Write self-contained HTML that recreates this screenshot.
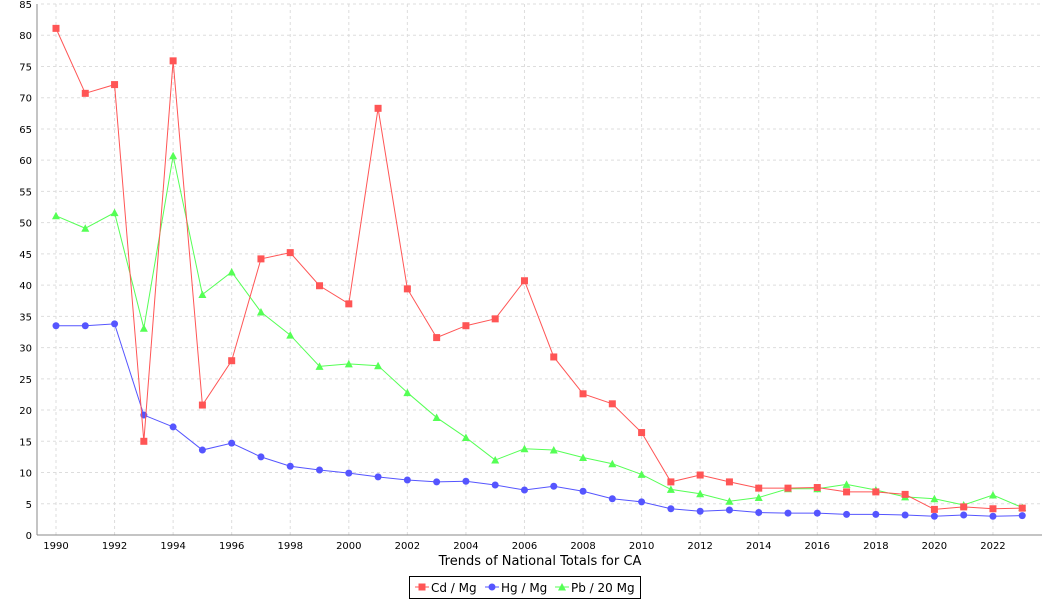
<!DOCTYPE html>
<html><head><meta charset="utf-8"><style>
body{margin:0;background:#fff;font-family:"DejaVu Sans","Liberation Sans",sans-serif}
</style></head><body>
<svg id="s" width="1050" height="600" xmlns="http://www.w3.org/2000/svg" font-family="DejaVu Sans, Liberation Sans, sans-serif"></svg>
<script>
const s=document.getElementById('s');
const X0=41,X1=1042,Y0=535,Y1=4;
const xs=y=>56+(y-1990)*29.28, ys=v=>Y0-v*(Y0-Y1)/85;
let h='';
h+=`<rect x="${X0}" y="${Y1}" width="${X1-X0}" height="${Y0-Y1}" fill="#fff"/>`;
for(let v=5;v<=85;v+=5)h+=`<line x1="${X0}" x2="${X1}" y1="${ys(v)}" y2="${ys(v)}" stroke="#ddd" stroke-dasharray="3,3"/>`;
for(let y=1990;y<=2022;y+=2)h+=`<line x1="${xs(y)}" x2="${xs(y)}" y1="${Y1}" y2="${Y0}" stroke="#ddd" stroke-dasharray="3,3"/>`;
for(let v=0;v<=85;v+=5)h+=`<text x="32" y="${ys(v)+4}" font-size="10" text-anchor="end">${v}</text>`;
for(let y=1990;y<=2022;y+=2)h+=`<text x="${xs(y)}" y="549" font-size="10" text-anchor="middle">${y}</text>`;
h+=`<line x1="37" x2="${X1}" y1="${Y0}" y2="${Y0}" stroke="#888"/><line x1="37" x2="37" y1="${Y1}" y2="${Y0}" stroke="#888"/>`;
h+=`<text x="540" y="565" font-size="13" text-anchor="middle">Trends of National Totals for CA</text>`;
const cd=[81.1,70.7,72.1,15.0,75.9,20.8,27.9,44.2,45.2,39.9,37.0,68.3,39.4,31.6,33.5,34.6,40.7,28.5,22.6,21.0,16.4,8.5,9.6,8.5,7.5,7.5,7.6,6.9,6.9,6.5,4.1,4.5,4.2,4.3];
const hg=[33.5,33.5,33.8,19.2,17.3,13.6,14.7,12.5,11.0,10.4,9.9,9.3,8.8,8.5,8.6,8.0,7.2,7.8,7.0,5.8,5.3,4.2,3.8,4.0,3.6,3.5,3.5,3.3,3.3,3.2,3.0,3.2,3.0,3.1];
const pb=[51.1,49.1,51.6,33.1,60.7,38.5,42.1,35.7,32.0,27.0,27.4,27.1,22.8,18.8,15.6,12.0,13.8,13.6,12.4,11.4,9.7,7.3,6.6,5.4,6.0,7.4,7.4,8.1,7.2,6.1,5.8,4.8,6.4,4.4];
function mk(t,x,y,c){if(t==0)return `<rect x="${x-3.5}" y="${y-3.5}" width="7" height="7" fill="${c}"/>`;
if(t==1)return `<circle cx="${x}" cy="${y}" r="3.5" fill="${c}"/>`;
return `<polygon points="${x},${y-4} ${x+4},${y+3.5} ${x-4},${y+3.5}" fill="${c}"/>`;}
[[pb,'#55ff55',2],[hg,'#5555ff',1],[cd,'#ff5555',0]].forEach(([d,c,t])=>{
 h+=`<polyline fill="none" stroke="${c}" stroke-width="1" points="${d.map((v,i)=>xs(1990+i)+','+ys(v)).join(' ')}"/>`;
 d.forEach((v,i)=>h+=mk(t,xs(1990+i),ys(v),c));
});
h+=`<rect x="409.5" y="576.5" width="231" height="22" fill="#fff" stroke="#000"/>`;
const L=[['Cd / Mg','#ff5555',0,415],['Hg / Mg','#5555ff',1,485],['Pb / 20 Mg','#55ff55',2,555]];
L.forEach(([n,c,t,x])=>{h+=`<line x1="${x}" x2="${x+14}" y1="587" y2="587" stroke="${c}"/>`+mk(t,x+7,587,c)+`<text x="${x+16}" y="592" font-size="12">${n}</text>`});
s.innerHTML=h;
</script>
</body></html>
